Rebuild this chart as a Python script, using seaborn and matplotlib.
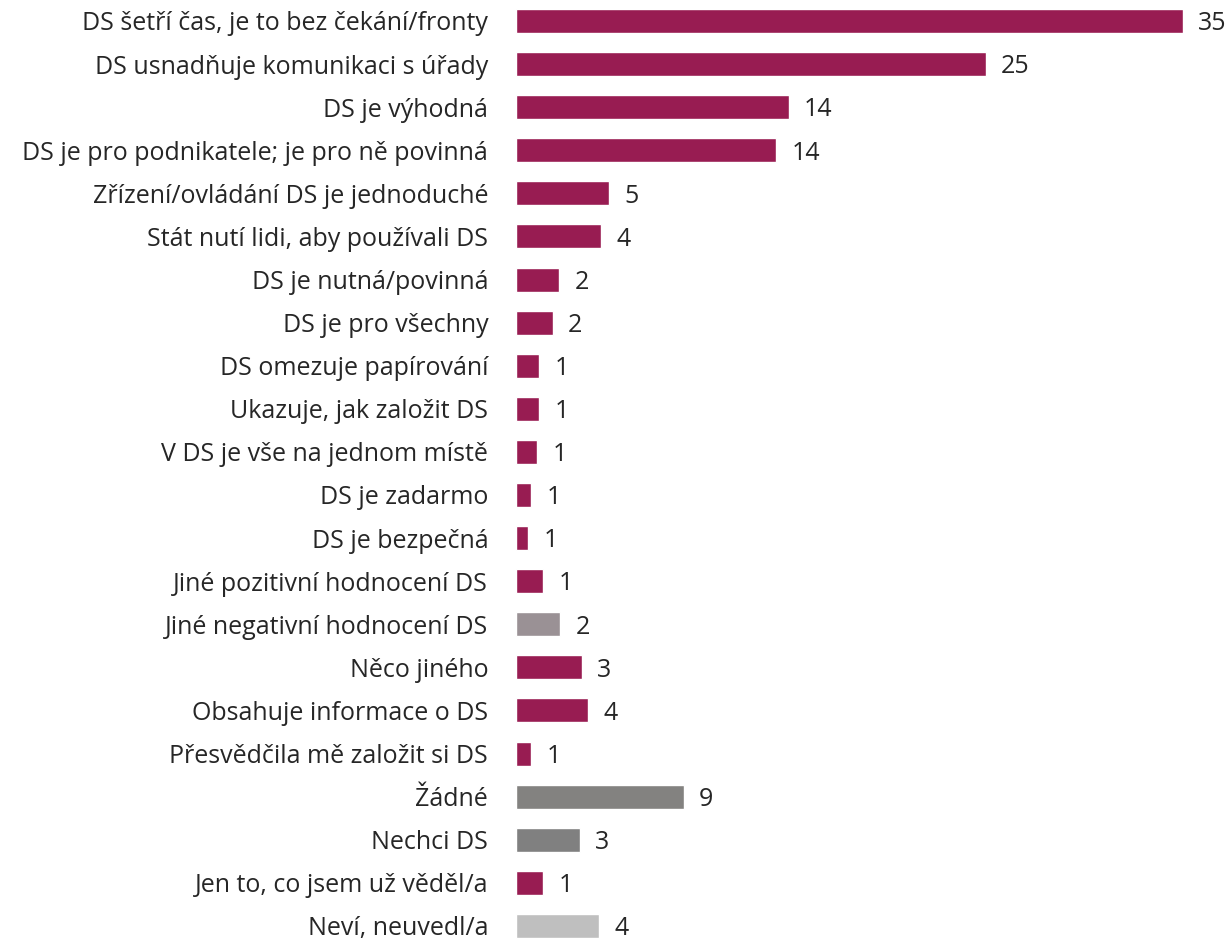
import matplotlib
matplotlib.use("Agg")
import matplotlib.pyplot as plt
import seaborn as sns
import pandas as pd

categories = [
    "DS šetří čas, je to bez čekání/fronty",
    "DS usnadňuje komunikaci s úřady",
    "DS je výhodná",
    "DS je pro podnikatele; je pro ně povinná",
    "Zřízení/ovládání DS je jednoduché",
    "Stát nutí lidi, aby používali DS",
    "DS je nutná/povinná",
    "DS je pro všechny",
    "DS omezuje papírování",
    "Ukazuje, jak založit DS",
    "V DS je vše na jednom místě",
    "DS je zadarmo",
    "DS je bezpečná",
    "Jiné pozitivní hodnocení DS",
    "Jiné negativní hodnocení DS",
    "Něco jiného",
    "Obsahuje informace o DS",
    "Přesvědčila mě založit si DS",
    "Žádné",
    "Nechci DS",
    "Jen to, co jsem už věděl/a",
    "Neví, neuvedl/a",
]
values = [35.0, 24.66, 14.32, 13.64, 4.88, 4.46, 2.26, 1.94, 1.21, 1.21, 1.10,
          0.79, 0.63, 1.42, 2.31, 3.46, 3.78, 0.79, 8.81, 3.36, 1.42, 4.35]
labels = ["35", "25", "14", "14", "5", "4", "2", "2", "1", "1", "1",
          "1", "1", "1", "2", "3", "4", "1", "9", "3", "1", "4"]

MAG = "#981C52"
colors = [MAG] * 14 + ["#9A9195", MAG, MAG, MAG, "#838280", "#808080", MAG, "#BFBFBF"]

df = pd.DataFrame({"cat": categories, "val": values})

sns.set_theme(style="white")
plt.rcParams["font.family"] = ["Open Sans", "DejaVu Sans"]

fig = plt.figure(figsize=(12.3, 9.41), dpi=100)
ax = fig.add_axes([516 / 1230, 0, (1183 - 516) / 1230, 1])

sns.barplot(data=df, x="val", y="cat", hue="cat", palette=colors, orient="h",
            legend=False, width=0.556, ax=ax, saturation=1)

ax.set_xlim(0, 35)
ax.set_ylim(21.35, -0.487)
for c, lab in zip(ax.containers, labels):
    texts = ax.bar_label(c, labels=[lab], padding=11, fontsize=18, color="#262626")
    for t in texts:
        t.xyann = (11, -2)

ax.set_xlabel("")
ax.set_ylabel("")
ax.set_xticks([])
ax.tick_params(axis="y", length=0, pad=20, labelsize=18, labelcolor="#262626")
for s in ax.spines.values():
    s.set_visible(False)

fig.savefig("out.png", dpi=100)
